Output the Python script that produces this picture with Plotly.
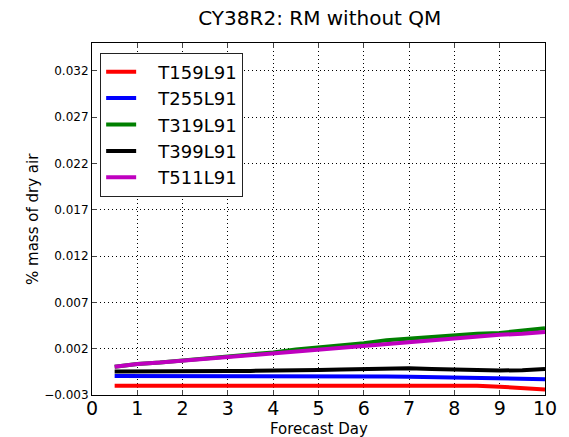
import plotly.graph_objects as go

days = [0.5, 1, 1.5, 2, 2.5, 3, 3.5, 4, 4.5, 5, 5.5, 6, 6.5, 7, 7.5, 8, 8.5, 9, 9.5, 10]

t159 = [-0.0020, -0.0020, -0.0019, -0.0020, -0.0019, -0.0019, -0.0020, -0.0020, -0.0019, -0.0020,
        -0.0020, -0.0020, -0.0020, -0.0020, -0.0019, -0.0020, -0.0020, -0.0021, -0.0022, -0.0024]
t255 = [-0.00095, -0.00095, -0.00093, -0.00092, -0.00090, -0.00090, -0.00092, -0.00093, -0.00095, -0.0010,
        -0.0010, -0.0010, -0.0010, -0.00102, -0.00108, -0.00115, -0.0012, -0.00125, -0.00128, -0.0013]
t319 = [0.00005, 0.00035, 0.0005, 0.0007, 0.0009, 0.00115, 0.0013, 0.0016, 0.0019, 0.0021,
        0.0024, 0.0026, 0.0029, 0.0031, 0.0033, 0.0035, 0.0036, 0.0037, 0.0040, 0.0042]
t399 = [-0.00045, -0.00042, -0.0004, -0.0004, -0.0004, -0.0004, -0.0004, -0.0004, -0.00035, -0.0003,
        -0.00025, -0.0002, -0.00015, -0.0001, -0.00018, -0.00025, -0.0003, -0.00035, -0.00033, -0.0002]
t511 = [0.00005, 0.00035, 0.0005, 0.0007, 0.0009, 0.00115, 0.0013, 0.0015, 0.0017, 0.0019,
        0.0021, 0.0024, 0.0026, 0.0028, 0.0030, 0.0032, 0.0034, 0.0035, 0.0036, 0.0038]

series = [("T159L91", t159, "#ff0000"), ("T255L91", t255, "#0000ff"),
          ("T319L91", t319, "#008000"), ("T399L91", t399, "#000000"),
          ("T511L91", t511, "#bf00bf")]

yticks = [-0.003, 0.002, 0.007, 0.012, 0.017, 0.022, 0.027, 0.032]
ytext = ["\u22120.003", "0.002", "0.007", "0.012", "0.017", "0.022", "0.027", "0.032"]
xticks = list(range(0, 11))

fig = go.Figure()
for name, vals, col in series:
    fig.add_trace(go.Scatter(x=days, y=vals, mode="lines", name="   " + name,
                             line=dict(color=col, width=4)))

fig.update_layout(
    width=569, height=437,
    margin=dict(l=92, r=24, t=43, b=42),
    paper_bgcolor="white", plot_bgcolor="white",
    font=dict(family="DejaVu Sans", color="black"),
    title=dict(text="CY38R2: RM without QM", x=0.562, xanchor="center", y=0.975, yanchor="top",
               font=dict(size=20)),
    legend=dict(x=0.018, y=0.973, xanchor="left", yanchor="top",
                bordercolor="#222", borderwidth=1, bgcolor="white",
                font=dict(size=18), tracegroupgap=0),
    annotations=[
        dict(text="Forecast Day", xref="paper", yref="paper", x=0.5, y=0,
             xanchor="center", yanchor="top", yshift=-23, showarrow=False,
             font=dict(size=15)),
        dict(text="% mass of dry air", xref="paper", yref="paper", x=0, y=0.5,
             xanchor="center", yanchor="middle", xshift=-59, textangle=-90, showarrow=False,
             font=dict(size=15)),
    ],
)
fig.update_xaxes(range=[0, 10], tickvals=xticks, ticks="inside", ticklen=5, automargin=False,
                 tickfont=dict(size=19), ticklabelstandoff=-4,
                 showline=True, linecolor="black", linewidth=1,
                 mirror="ticks", showgrid=True, gridcolor="black", griddash="1px,3px", gridwidth=1,
                 zeroline=False)
fig.update_yaxes(range=[-0.003, 0.035], tickvals=yticks, ticktext=ytext, ticks="inside", ticklen=5,
                 automargin=False,
                 tickfont=dict(size=12), showline=True, linecolor="black", linewidth=1,
                 mirror="ticks", showgrid=True, gridcolor="black", griddash="1px,3px", gridwidth=1,
                 zeroline=False)

fig.write_html("out.html")
